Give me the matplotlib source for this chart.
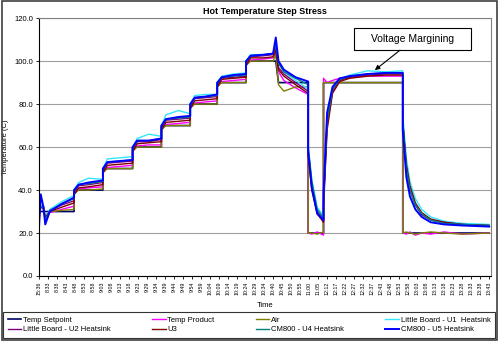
import matplotlib
matplotlib.use("Agg")
import matplotlib.pyplot as plt
from matplotlib.patches import Rectangle

plt.rcParams['font.family'] = ['Liberation Sans', 'DejaVu Sans']

# ─── DATA ──────────────────────────────────────────────────────────────────────

time_labels = ["15:36", "8:33", "8:38", "8:43", "8:48", "8:53", "8:58", "9:03", "9:08",
               "9:13", "9:18", "9:23", "9:29", "9:34", "9:39", "9:44", "9:49", "9:54",
               "9:59", "10:04", "10:09", "10:14", "10:19", "10:24", "10:29", "10:34",
               "10:40", "10:45", "10:50", "10:55", "11:00", "11:05", "12:12", "12:17",
               "12:22", "12:27", "12:32", "12:37", "12:43", "12:48", "12:53", "12:58",
               "13:03", "13:08", "13:13", "13:18", "13:23", "13:28", "13:33", "13:38",
               "13:43"]

# sample positions, in units of the time ticks
t = [0.0, 0.2, 0.5, 0.7, 1.2, 2.5, 3.9,
     3.9, 4.4, 5.5, 7.1,
     7.1, 7.6, 9.0, 10.4,
     10.4, 10.9, 12.2, 13.6,
     13.6, 14.1, 15.5, 16.8,
     16.8, 17.3, 18.5, 19.8,
     19.8, 20.3, 21.6, 23.0,
     23.0, 23.5, 25.0, 26.0, 26.3, 26.6, 27.2, 28.5, 29.9,
     29.9, 30.3, 30.9, 31.6,
     31.6, 32.0, 32.6, 33.4, 34.5, 36.5, 38.5, 40.4,
     40.4, 40.8, 41.2, 41.8, 42.5, 43.5, 45.0, 47.0, 50.0]

temp_setpoint = [30, 30, 30, 30, 30, 30, 30,
                 40, 40, 40, 40,
                 50, 50, 50, 50,
                 60, 60, 60, 60,
                 70, 70, 70, 70,
                 80, 80, 80, 80,
                 90, 90, 90, 90,
                 100, 100, 100, 100, 100, 90, 90, 90, 90,
                 20, 20, 20, 20,
                 90, 90, 90, 90, 90, 90, 90, 90,
                 20, 20, 20, 20, 20, 20, 20, 20, 20]

temp_product = [26, 32, 32, 27, 29.5, 31, 32.5,
                38, 40.5, 41, 41.5,
                48, 50.5, 51, 51.5,
                58, 60.5, 61, 61,
                68, 70.5, 71, 71.5,
                78, 80.5, 81, 81.5,
                88, 90.5, 91, 91.5,
                98, 100.5, 101, 101.5, 104, 95, 91, 87.5, 84.5,
                20, 19.5, 20.5, 19,
                92, 90, 91, 92, 92.5, 93, 93, 93,
                20, 19.5, 20.5, 19, 20, 19.5, 20.5, 19.5, 20]

air = [28, 32, 31, 28, 30, 30.5, 31,
       38, 40, 40, 40.5,
       48, 50, 50, 50,
       58, 60, 60, 60,
       68, 70, 70, 70,
       78, 80, 80, 80,
       88, 90, 90, 90,
       98, 100, 100, 100, 103, 89, 86, 88, 88,
       20, 20, 19.5, 20.5,
       90, 90, 90, 90, 90, 90, 90, 90,
       20, 20.5, 20, 19.5, 20, 20.5, 20, 19.5, 20]

u1_heatsink = [30, 33, 33, 27, 31, 34.5, 37.5,
               40, 43.5, 45.5, 45,
               50, 54.5, 55, 55.5,
               60, 64, 66, 65,
               70, 75, 77, 75.5,
               80, 84, 84.5, 84.5,
               90, 93, 94, 94.5,
               100, 103, 103, 103.5, 108, 99, 95, 91, 87,
               60, 45, 32, 28,
               35, 72, 87, 91.5, 93.5, 95.5, 95, 95.5,
               75, 55, 44, 36, 31, 27.5, 25.5, 24.5, 24]

u2_heatsink = [33, 32, 32, 26, 30.5, 33, 35,
               39, 42, 42.5, 43.5,
               49, 52.5, 53, 53.5,
               59, 62.5, 62.5, 63.5,
               69, 72.5, 73, 73.5,
               79, 82.5, 83, 83.5,
               89, 92, 92.5, 93,
               99, 102, 102.5, 103, 107, 97, 94, 90, 86,
               58, 42, 30, 26,
               33, 70, 86, 91, 92.5, 93.5, 94, 94,
               72, 50, 40, 33, 28.5, 26, 25, 24, 23.5]

u3 = [31, 32, 32, 27, 30, 32, 34,
      38, 41, 41.5, 42.5,
      48, 51.5, 52, 52.5,
      58, 61.5, 62, 62.5,
      68, 71.5, 72, 72.5,
      78, 81.5, 82, 82.5,
      88, 91.5, 92, 92.5,
      98, 101.5, 101.5, 102, 105, 96, 93, 89, 85,
      56, 40, 29, 25,
      32, 68, 85, 90.5, 92, 93, 93.5, 93.5,
      72, 52, 42, 34, 29.5, 26.5, 25, 24, 23.5]

u4_heatsink = [32, 32, 32, 26, 30.5, 33.5, 36,
               39.5, 42.5, 43, 44,
               49.5, 53, 53.5, 54,
               59.5, 63, 63, 64,
               69.5, 73, 73.5, 74,
               79.5, 83, 83.5, 84,
               89.5, 92.5, 93, 93.5,
               99.5, 102.5, 103, 103.5, 108, 99, 95, 92, 89,
               60, 44, 31, 27,
               35, 72, 87, 91.5, 93, 94, 94.5, 94.5,
               72, 50, 40, 33, 29, 26, 24.5, 24, 23.5]

u5_heatsink = [22, 38, 32, 24, 30, 33.5, 36.5,
               40, 42.5, 43.5, 44.5,
               50, 53, 53.5, 54,
               60, 63, 63, 64,
               70, 73, 74, 74.5,
               80, 83, 83.5, 84.5,
               90, 92.5, 93.5, 94,
               100, 102.5, 103, 103.5, 111, 100, 96, 92.5, 90.5,
               58, 41, 29, 26,
               38, 76, 88, 92, 93, 94, 94.5, 94.5,
               68, 46, 37, 31, 27.5, 25, 24, 23.5, 23]

series = [
    ("Temp Setpoint", temp_setpoint, "#000066", 1.2),
    ("Temp Product", temp_product, "#ff00ff", 1.0),
    ("Air", air, "#808000", 1.0),
    ("Little Board - U1  Heatsink", u1_heatsink, "#33e6ff", 1.0),
    ("Little Board - U2 Heatsink", u2_heatsink, "#800080", 1.0),
    ("U3", u3, "#800000", 1.0),
    ("CM800 - U4 Heatsink", u4_heatsink, "#008080", 1.0),
    ("CM800 - U5 Heatsink", u5_heatsink, "#0000ff", 1.4),
]

# ─── PLOT ──────────────────────────────────────────────────────────────────────

fig = plt.figure(figsize=(5.0, 3.42), dpi=100)
ax = fig.add_axes([0.077, 0.193, 0.905, 0.754])

lines = {}
for name, vals, col, lw in series:
    lines[name], = ax.plot(t, vals, color=col, lw=lw, label=name)

ax.set_xlim(-0.05, 50.2)
ax.set_ylim(0, 120)
ax.set_yticks(range(0, 121, 20))
ax.set_yticklabels([f"{v:.1f}" for v in range(0, 121, 20)], fontsize=5.5)
ax.set_xticks(range(len(time_labels)))
ax.set_xticklabels(time_labels, rotation=90, fontsize=3.8)
ax.tick_params(axis="both", direction="out", length=2.5, width=0.6, pad=1.5)
ax.yaxis.grid(True, color="#a0a0a0", lw=0.8)
ax.set_axisbelow(True)

for side in ("top", "right"):
    ax.spines[side].set_color("#808080")
    ax.spines[side].set_linewidth(0.8)
for side in ("left", "bottom"):
    ax.spines[side].set_color("black")
    ax.spines[side].set_linewidth(0.8)

ax.set_title("Hot Temperature Step Stress", fontsize=6.5, fontweight="bold", pad=3)
ax.set_ylabel("Temperature (C)", fontsize=5.5, labelpad=4)
ax.set_xlabel("Time", fontsize=5.5, labelpad=5)

# Voltage margining callout
ax.add_patch(Rectangle((35.0, 105.1), 13.0, 10.2, facecolor="white",
                       edgecolor="black", lw=0.8, zorder=5))
ax.text(41.5, 110.2, "Voltage Margining", ha="center", va="center",
        fontsize=7.5, zorder=6)
ax.annotate("", xy=(37.3, 95.8), xytext=(40.1, 105.1),
            arrowprops=dict(arrowstyle="-|>", color="black", lw=0.8,
                            mutation_scale=7, shrinkA=0, shrinkB=0), zorder=6)

# Legend (Excel row order)
order = ["Temp Setpoint", "Little Board - U2 Heatsink", "Temp Product", "U3",
         "Air", "CM800 - U4 Heatsink", "Little Board - U1  Heatsink", "CM800 - U5 Heatsink"]
leg = fig.legend([lines[n] for n in order], order, ncol=4, mode="expand",
                 loc="lower left", bbox_to_anchor=(0.006, 0.012, 0.984, 0.072),
                 fontsize=5.5, handlelength=1.8, handletextpad=0.2,
                 borderpad=0.6, labelspacing=0.3, fancybox=False,
                 borderaxespad=0)
leg.get_frame().set_edgecolor("black")
leg.get_frame().set_linewidth(0.8)

# outer chart frame
fig.patches.append(Rectangle((0.004, 0.006), 0.99, 0.99, transform=fig.transFigure,
                             fill=False, edgecolor="#404040", lw=1.2))

fig.savefig("out.png", dpi=100)
